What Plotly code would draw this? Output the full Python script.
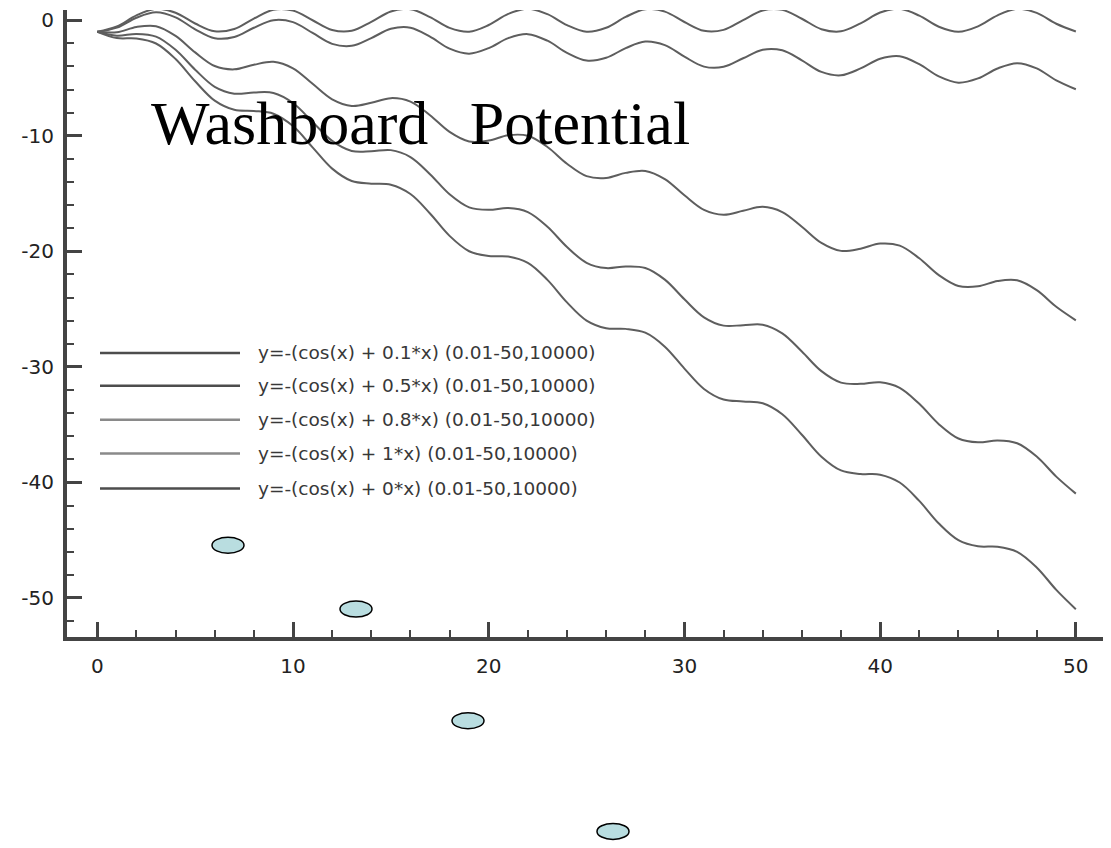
import plotly.graph_objects as go

# ---------------- data ----------------
x_vals = list(range(0, 51))

y_a01 = [-1.00, -0.64, 0.22, 0.69, 0.25, -0.78, -1.56, -1.45, -0.65, 0.01,
         -0.16, -1.10, -2.04, -2.21, -1.54, -0.74, -0.64, -1.42, -2.46, -2.89,
         -2.41, -1.55, -1.20, -1.77, -2.82, -3.49, -3.25, -2.41, -1.84, -2.15,
         -3.15, -4.01, -4.03, -3.29, -2.55, -2.60, -3.47, -4.47, -4.76, -4.17,
         -3.33, -3.11, -3.80, -4.86, -5.40, -5.03, -4.17, -3.71, -4.16, -5.20,
         -5.97]
y_a05 = [-1.00, -1.04, -0.58, -0.51, -1.35, -2.78, -3.96, -4.25, -3.85, -3.59,
         -4.16, -5.50, -6.84, -7.41, -7.14, -6.74, -7.04, -8.22, -9.66, -10.49,
         -10.41, -9.95, -10.00, -10.97, -12.42, -13.49, -13.65, -13.21, -13.04, -13.75,
         -15.15, -16.41, -16.83, -16.49, -16.15, -16.60, -17.87, -19.27, -19.96, -19.77,
         -19.33, -19.51, -20.60, -22.06, -23.00, -23.03, -22.57, -22.51, -23.36, -24.80,
         -25.97]
y_a08 = [-1.00, -1.34, -1.18, -1.41, -2.55, -4.28, -5.76, -6.35, -6.25, -6.29,
         -7.16, -8.80, -10.44, -11.31, -11.34, -11.24, -11.84, -13.32, -15.06, -16.19,
         -16.41, -16.25, -16.60, -17.87, -19.62, -20.99, -21.45, -21.31, -21.44, -22.45,
         -24.15, -25.71, -26.43, -26.39, -26.35, -27.10, -28.67, -30.37, -31.36, -31.47,
         -31.33, -31.81, -33.20, -34.96, -36.20, -36.53, -36.37, -36.61, -37.76, -39.50,
         -40.97]
y_a10 = [-1.00, -1.54, -1.58, -2.01, -3.35, -5.28, -6.96, -7.75, -7.85, -8.09,
         -9.16, -11.00, -12.84, -13.91, -14.14, -14.24, -15.04, -16.72, -18.66, -19.99,
         -20.41, -20.45, -21.00, -22.47, -24.42, -25.99, -26.65, -26.71, -27.04, -28.25,
         -30.15, -31.91, -32.83, -32.99, -33.15, -34.10, -35.87, -37.77, -38.96, -39.27,
         -39.33, -40.01, -41.60, -43.56, -45.00, -45.53, -45.57, -46.01, -47.36, -49.30,
         -50.97]
y_a00 = [-1.00, -0.54, 0.42, 0.99, 0.65, -0.28, -0.96, -0.75, 0.15, 0.91,
         0.84, 0.00, -0.84, -0.91, -0.14, 0.76, 0.96, 0.28, -0.66, -0.99,
         -0.41, 0.55, 1.00, 0.53, -0.42, -0.99, -0.65, 0.29, 0.96, 0.75,
         -0.15, -0.91, -0.83, 0.01, 0.85, 0.90, 0.13, -0.77, -0.96, -0.27,
         0.67, 0.99, 0.40, -0.56, -1.00, -0.53, 0.43, 0.99, 0.64, -0.30,
         -0.97]

series_names = [
    "y=-(cos(x) + 0.1*x) (0.01-50,10000)",
    "y=-(cos(x) + 0.5*x) (0.01-50,10000)",
    "y=-(cos(x) + 0.8*x) (0.01-50,10000)",
    "y=-(cos(x) + 1*x) (0.01-50,10000)",
    "y=-(cos(x) + 0*x) (0.01-50,10000)",
]
series_values = [y_a01, y_a05, y_a08, y_a10, y_a00]
series_colors = ["#4d4d4d", "#4d4d4d", "#8a8a8a", "#8a8a8a", "#4d4d4d"]

x_tick_vals = [0, 10, 20, 30, 40, 50]
x_tick_text = ["0", "10", "20", "30", "40", "50"]
y_tick_vals = [0, -10, -20, -30, -40, -50]
y_tick_text = ["0", "-10", "-20", "-30", "-40", "-50"]

title_text = "Washboard\u00a0\u00a0\u2006Potential"

# ---------------- layout geometry ----------------
# page has an 8px body margin; plot area in page pixels: x 67..1105, y 8..637
FIG_W, FIG_H = 1111, 848
PAGE_OFF = 8
P_LEFT, P_RIGHT, P_TOP, P_BOTTOM = 67, 1105, 8, 637
PW, PH = P_RIGHT - P_LEFT, P_BOTTOM - P_TOP


def px_x(p):
    return (p - P_LEFT) / PW


def px_y(p):
    return (P_BOTTOM - p) / PH


fig = go.Figure()
for name, vals in zip(series_names, series_values):
    fig.add_trace(go.Scatter(
        x=x_vals, y=vals, mode="lines", name=name,
        line=dict(color="#5e5e5e", width=2, shape="spline", smoothing=1.0),
        showlegend=False, hoverinfo="skip",
    ))

axis_common = dict(
    showline=True, linewidth=4, linecolor="#444444",
    ticks="inside", tickwidth=3, tickcolor="#444444", ticklen=15,
    showgrid=False, zeroline=False, ticklabeloverflow="allow",
    tickfont=dict(family="DejaVu Sans", size=20, color="#222222"),
    minor=dict(dtick=2, ticks="inside", ticklen=7, tickwidth=2,
               tickcolor="#444444", showgrid=False),
)

fig.update_layout(
    width=FIG_W, height=FIG_H,
    margin=dict(l=P_LEFT - PAGE_OFF, r=FIG_W - (P_RIGHT - PAGE_OFF),
                t=P_TOP - PAGE_OFF, b=FIG_H - (P_BOTTOM - PAGE_OFF)),
    paper_bgcolor="white", plot_bgcolor="white",
    xaxis=dict(range=[-1.548, 51.49], tickmode="array",
               tickvals=x_tick_vals, ticktext=x_tick_text,
               ticklabelstandoff=8, **axis_common),
    yaxis=dict(range=[-53.38, 0.889], tickmode="array",
               tickvals=y_tick_vals, ticktext=y_tick_text,
               ticklabelstandoff=5, mirror=True, **axis_common),
)

# manual legend
legend_rows = [352, 385, 419, 453, 488]
shapes = []
annotations = []
for name, col, row in zip(series_names, series_colors, legend_rows):
    shapes.append(dict(type="line", xref="paper", yref="paper",
                       x0=px_x(100), x1=px_x(240), y0=px_y(row), y1=px_y(row),
                       line=dict(color=col, width=2.5)))
    annotations.append(dict(xref="paper", yref="paper", x=px_x(256), y=px_y(row),
                            xanchor="left", yanchor="middle", showarrow=False,
                            text=name,
                            font=dict(family="DejaVu Sans", size=18.5, color="#383838")))

# overlay title
annotations.append(dict(xref="paper", yref="paper", x=px_x(149), y=px_y(121),
                        xanchor="left", yanchor="middle", showarrow=False,
                        text=title_text,
                        font=dict(family="Liberation Serif", size=62, color="black")))

# decorative ellipses
ellipse_centers = [(228, 545), (356, 609), (468, 721), (613, 832)]
for cx, cy in ellipse_centers:
    shapes.append(dict(type="circle", xref="paper", yref="paper",
                       xsizemode="pixel", ysizemode="pixel",
                       xanchor=px_x(cx), yanchor=px_y(cy),
                       x0=-16, x1=16, y0=-8, y1=8,
                       fillcolor="#b9dde0", line=dict(color="black", width=1.5)))

fig.update_layout(shapes=shapes, annotations=annotations)

fig.write_html("out.html")
